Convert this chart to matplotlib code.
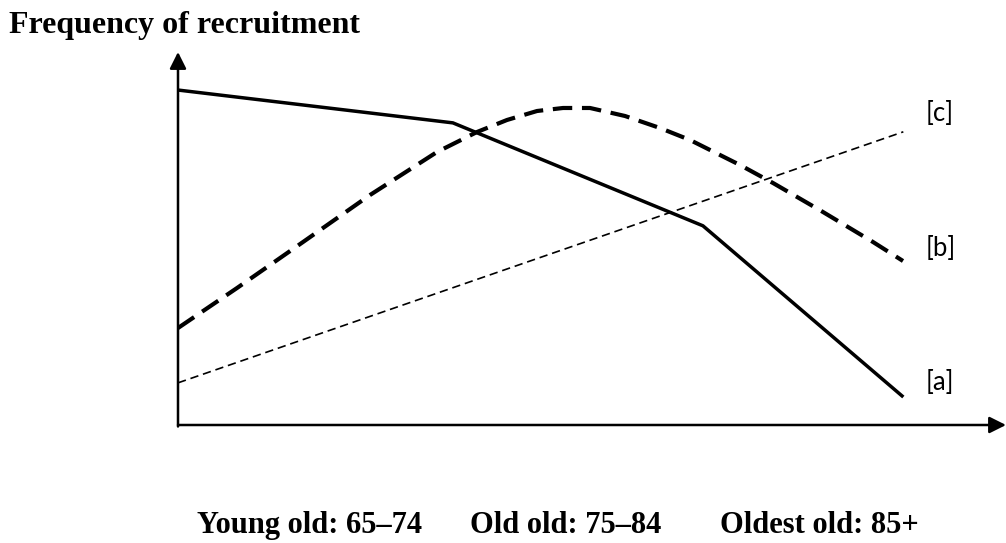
import matplotlib
matplotlib.use('Agg')
import matplotlib.pyplot as plt

# ---------------------------------------------------------------
# data (schematic, 0-100 units on both axes)
a_x = [0, 33.2, 63.4, 87.6]
a_y = [89.8, 81.0, 53.4, 7.5]

b_x = [0, 7.13, 15.10, 23.19, 31.28, 36.11, 39.73, 43.36, 46.50, 49.76,
       53.99, 58.21, 61.84, 67.87, 71.86, 77.90, 83.94, 87.56]
b_y = [26.0, 36.73, 49.06, 61.66, 73.19, 78.55, 81.77, 84.18, 84.99, 84.99,
       82.84, 79.62, 76.41, 69.71, 64.88, 57.10, 49.06, 43.97]

c_x = [0, 87.6]
c_y = [11.3, 78.6]

series_labels = ['[a]', '[b]', '[c]']
label_y = [11.3, 47.2, 83.6]

title = 'Frequency of recruitment'
groups = ['Young old: 65\u201374', 'Old old: 75\u201384', 'Oldest old: 85+']
group_px = [197, 470, 720]

W, H = 1006, 543
plt.rcParams['lines.scale_dashes'] = False
serif = ['Liberation Serif', 'DejaVu Serif']

fig = plt.figure(figsize=(W / 100, H / 100), dpi=100)
ax = fig.add_axes([178 / W, (H - 425) / H, 828 / W, 373 / H])
ax.set_xlim(0, 100)
ax.set_ylim(0, 100)
ax.axis('off')

ax.plot(a_x, a_y, color='black', lw=2.5, solid_capstyle='butt',
        solid_joinstyle='round')
ax.plot(b_x, b_y, color='black', lw=3.0, dashes=(14, 7), dash_capstyle='butt',
        dash_joinstyle='round')
ax.plot(c_x, c_y, color='black', lw=1.2, dashes=(6, 3.5))

lab_x = 87.6 + (925 - 903) / 828 * 100
for lab, yy in zip(series_labels, label_y):
    ax.text(lab_x, yy, lab, fontsize=18.5, family=['Lato', 'DejaVu Sans'],
            ha='left', va='center')

# axes with arrow heads
arrow = dict(arrowstyle='-|>', color='black', lw=1.8, mutation_scale=25,
             shrinkA=0, shrinkB=0)
ax.annotate('', xy=(0, 1.0), xytext=(0, -0.004), xycoords='axes fraction',
            arrowprops=arrow, annotation_clip=False)
ax.annotate('', xy=(1.0, 0), xytext=(0, 0), xycoords='axes fraction',
            arrowprops=arrow, annotation_clip=False)

fig.text(9 / W, (H - 33) / H, title, fontsize=23, fontweight='bold',
         family=serif, ha='left', va='baseline')
for g, px in zip(groups, group_px):
    fig.text(px / W, (H - 533) / H, g, fontsize=22, fontweight='bold',
             family=serif, ha='left', va='baseline')

fig.savefig('out.png', dpi=100)
